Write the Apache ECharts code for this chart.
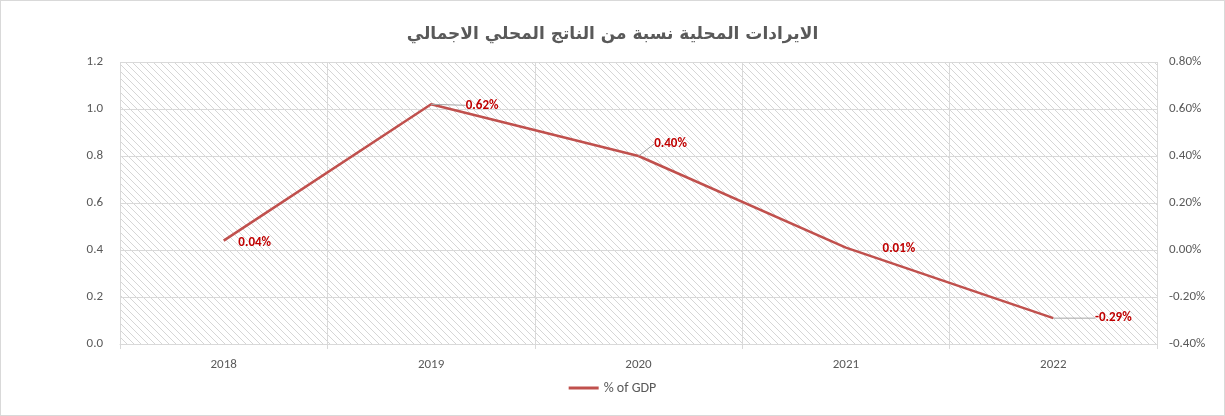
<!DOCTYPE html>
<html>
<head>
<meta charset="utf-8">
<style>
  html, body { margin: 0; padding: 0; background: #fff; }
  #chart { width: 1223px; height: 414px; border: 1px solid #d9d9d9; }
</style>
<script src="https://cdn.jsdelivr.net/npm/echarts@6/dist/echarts.min.js"></script>
</head>
<body>
<div id="chart"></div>
<script>
// Local revenue as a share of GDP, by year
const years = ['2018', '2019', '2020', '2021', '2022'];
const shareOfGdp = [0.04, 0.62, 0.40, 0.01, -0.29];   // percent
const leftTicks = { min: 0, max: 1.2, interval: 0.2 };
const rightTicks = { min: -0.4, max: 0.8, interval: 0.2 };
const titleText = 'الايرادات المحلية نسبة من الناتج المحلي الاجمالي';
const seriesName = '% of GDP';

// Label placement per point: [dx, dy, show guide line]
const labelShift = [[31, 2, false], [51, 1, true], [32, -12, true], [53, 1, false], [60, 0, true]];

// Diagonal hatch tile for the plot area background
function hatchTile() {
  const size = 7;
  const c = document.createElement('canvas');
  c.width = size; c.height = size;
  const ctx = c.getContext('2d');
  ctx.strokeStyle = '#d6d6d6';
  ctx.lineWidth = 1;
  ctx.beginPath();
  ctx.moveTo(-1, -1); ctx.lineTo(size + 1, size + 1);
  ctx.moveTo(-1, size - 1); ctx.lineTo(1, size + 1);
  ctx.moveTo(size - 1, -1); ctx.lineTo(size + 1, 1);
  ctx.stroke();
  return c;
}

const chart = echarts.init(document.getElementById('chart'));
const fontFamily = 'Carlito, Lato, "Liberation Sans", Arial, sans-serif';
const axisText = { color: '#595959', fontSize: 13, fontFamily: fontFamily };
const lineColor = '#c0504d';

const seriesData = shareOfGdp.map((v, i) => ({
  value: v,
  labelLine: { show: labelShift[i][2] }
}));

chart.setOption({
  backgroundColor: '#ffffff',
  title: {
    text: titleText,
    left: 'center',
    top: 20,
    textStyle: { color: '#595959', fontSize: 17, fontWeight: 'bold', fontFamily: '"DejaVu Sans", "Noto Sans", sans-serif' }
  },
  legend: {
    bottom: 15,
    left: 'center',
    itemWidth: 30,
    itemHeight: 3,
    icon: 'rect',
    textStyle: Object.assign({}, axisText, { fontSize: 14 }),
    data: [{ name: seriesName, itemStyle: { color: lineColor } }]
  },
  grid: {
    left: 119, right: 67, top: 61, bottom: 71,
    show: true,
    borderWidth: 0,
    backgroundColor: { image: hatchTile(), repeat: 'repeat' }
  },
  xAxis: {
    type: 'category',
    data: years,
    boundaryGap: true,
    axisLine: { lineStyle: { color: '#d9d9d9' } },
    axisTick: { show: true, length: 5, lineStyle: { color: '#d9d9d9' } },
    axisLabel: Object.assign({ margin: 14 }, axisText),
    splitLine: { show: true, lineStyle: { color: '#d9d9d9' } }
  },
  yAxis: [
    {
      type: 'value',
      min: leftTicks.min, max: leftTicks.max, interval: leftTicks.interval,
      axisLine: { show: false },
      axisTick: { show: false },
      axisLabel: Object.assign({ margin: 17, formatter: v => v.toFixed(1) }, axisText),
      splitLine: { show: true, lineStyle: { color: '#d9d9d9' } }
    },
    {
      type: 'value',
      min: rightTicks.min, max: rightTicks.max, interval: rightTicks.interval,
      axisLine: { show: false },
      axisTick: { show: false },
      axisLabel: Object.assign({ margin: 12, formatter: v => v.toFixed(2) + '%' }, axisText),
      splitLine: { show: false }
    }
  ],
  series: [{
    name: seriesName,
    type: 'line',
    yAxisIndex: 1,
    data: seriesData,
    symbol: 'circle',
    symbolSize: 0,
    showSymbol: true,
    lineStyle: { color: lineColor, width: 2.5 },
    itemStyle: { color: lineColor },
    label: {
      show: true,
      position: 'inside',
      color: '#c00000',
      fontWeight: 'bold',
      fontSize: 13,
      fontFamily: fontFamily,
      formatter: p => p.value.toFixed(2) + '%'
    },
    labelLine: { lineStyle: { color: '#a6a6a6', width: 1 } },
    labelLayout: p => {
      const s = labelShift[p.dataIndex];
      return { dx: s[0], dy: s[1] };
    },
    emphasis: { disabled: true },
    animation: false
  }],
  animation: false
});
</script>
</body>
</html>
